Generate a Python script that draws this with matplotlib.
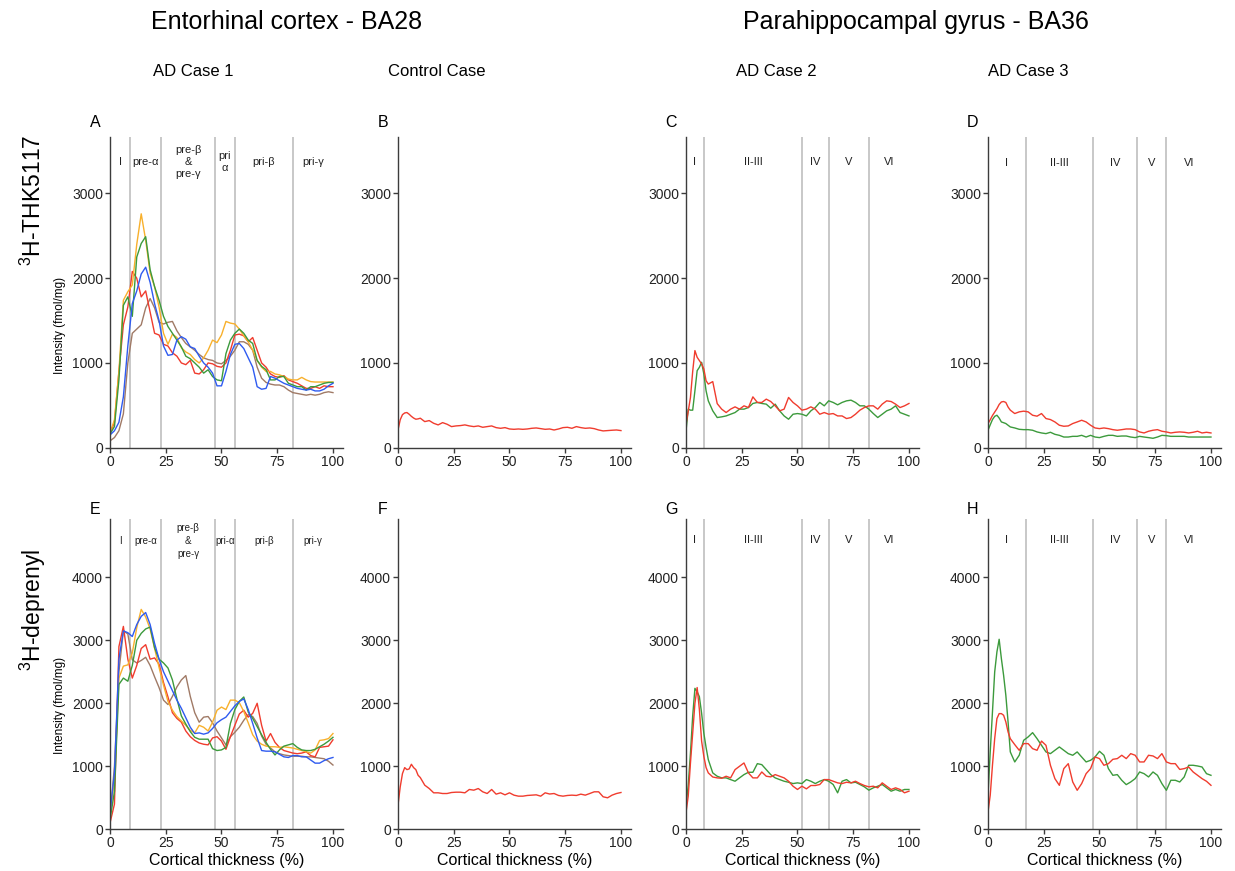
import matplotlib.pyplot as plt
import numpy as np

plt.rcParams['font.family'] = ['Liberation Sans', 'DejaVu Sans']
plt.rcParams['mathtext.default'] = 'regular'

# sample positions along the cortex (% thickness)
x_even = np.arange(0, 101, 2)
x_fine = np.concatenate([np.arange(0, 11), np.arange(12, 101, 2)])

# colours of the case lines
c_red = '#f03c2e'
c_green = '#3c9a3c'
c_blue = '#2f5bf0'
c_orange = '#f8b02c'
c_brown = '#a07a66'

# A - entorhinal, 3H-THK5117, AD case 1 (five profiles)
a_orange = [170, 330, 900, 1740, 1840, 1920, 2400, 2760, 2450, 2060,
            1900, 1660, 1350, 1220, 1340, 1300, 1180, 1130, 1100, 1040,
            1000, 1060, 1150, 1270, 1240, 1330, 1490, 1470, 1460, 1400,
            1320, 1250, 1150, 1030, 950, 900, 900, 870, 860, 840,
            810, 800, 800, 830, 800, 780, 775, 775, 775, 775, 775]
a_green = [160, 250, 800, 1680, 1780, 1550, 2250, 2410, 2490, 2100,
           1900, 1740, 1550, 1430, 1350, 1270, 1190, 1080, 1050, 1000,
           950, 880, 920, 840, 800, 790, 1110, 1270, 1350, 1400,
           1350, 1270, 1230, 1030, 960, 920, 800, 800, 840, 840,
           760, 740, 720, 720, 680, 720, 720, 740, 760, 770, 770]
a_red = [170, 300, 900, 1450, 1660, 2080, 2000, 1780, 1850, 1600,
         1350, 1330, 1220, 1200, 1120, 1080, 1000, 980, 1030, 880,
         870, 920, 1000, 990, 960, 950, 1000, 1150, 1330, 1340,
         1320, 1250, 1300, 1150, 1000, 950, 870, 840, 830, 850,
         800, 780, 760, 730, 700, 700, 720, 700, 730, 720, 720]
a_blue = [150, 200, 300, 600, 1200, 1700, 1850, 2050, 2130, 1950,
          1700, 1500, 1200, 1090, 1100, 1270, 1310, 1280, 1190, 1170,
          1080, 1000, 950, 880, 730, 730, 900, 1100, 1220, 1230,
          1170, 1060, 950, 720, 690, 700, 840, 820, 790, 760,
          740, 720, 700, 690, 680, 690, 670, 670, 690, 730, 760]
a_brown = [80, 120, 200, 400, 1000, 1350, 1400, 1450, 1650, 1760,
           1650, 1480, 1460, 1480, 1490, 1380, 1300, 1230, 1190, 1150,
           1100, 1060, 1040, 1030, 1000, 990, 1030, 1080, 1150, 1250,
           1250, 1220, 1150, 950, 820, 770, 750, 740, 740, 720,
           680, 650, 640, 630, 620, 630, 620, 630, 650, 660, 650]

# E - entorhinal, 3H-deprenyl, AD case 1
e_orange = [200, 800, 2400, 2590, 2610, 2800, 3200, 3490, 3370, 3180,
            2870, 2570, 2290, 2030, 1890, 1790, 1720, 1650, 1570, 1530,
            1650, 1620, 1560, 1700, 1890, 1940, 1900, 2050, 2050, 2010,
            1870, 1690, 1500, 1400, 1350, 1320, 1310, 1310, 1300, 1310,
            1300, 1290, 1270, 1250, 1230, 1210, 1260, 1410, 1420, 1440, 1520]
e_blue = [250, 900, 2700, 3150, 3120, 3060, 3250, 3380, 3440, 3250,
          2950, 2700, 2500, 2350, 2200, 2050, 1920, 1770, 1620, 1520,
          1530, 1510, 1530, 1600, 1690, 1740, 1780, 1870, 1960, 2030,
          2070, 1900, 1680, 1450, 1250, 1240, 1240, 1230, 1190, 1150,
          1140, 1170, 1170, 1150, 1150, 1100, 1050, 1050, 1090, 1120, 1140]
e_red = [100, 400, 2900, 3220, 2700, 2400, 2600, 2870, 2930, 2700,
         2720, 2620, 2330, 2100, 1850, 1760, 1700, 1560, 1470, 1410,
         1370, 1350, 1340, 1450, 1470, 1400, 1270, 1470, 1650, 1830,
         1890, 1780, 1840, 2000, 1650, 1400, 1520, 1380, 1300, 1250,
         1230, 1210, 1200, 1210, 1230, 1170, 1150, 1300, 1310, 1320, 1420]
e_green = [150, 600, 2300, 2400, 2350, 2600, 3000, 3110, 3180, 3210,
           2880, 2700, 2640, 2560, 2370, 2070, 1800, 1670, 1550, 1460,
           1430, 1430, 1430, 1280, 1250, 1260, 1300, 1680, 1900, 2030,
           2100, 1860, 1760, 1630, 1500, 1380, 1270, 1180, 1260, 1320,
           1340, 1360, 1300, 1260, 1250, 1250, 1270, 1310, 1350, 1400, 1460]
e_brown = [200, 1000, 2500, 3150, 3100, 2690, 2640, 2680, 2730, 2600,
           2420, 2250, 2050, 1980, 2110, 2260, 2370, 2440, 2110, 1850,
           1700, 1780, 1790, 1690, 1560, 1450, 1340, 1470, 1540, 1620,
           1730, 1820, 1790, 1680, 1480, 1350, 1290, 1230, 1200, 1180,
           1170, 1160, 1160, 1160, 1150, 1150, 1140, 1130, 1120, 1080, 1020]

# B / F - control case
b_red = [210, 330, 390, 410, 415, 395, 370, 350, 336, 340, 348,
         308, 320, 288, 269, 296, 277, 249, 257, 261, 269,
         257, 249, 257, 241, 249, 257, 237, 229, 237, 221,
         217, 221, 217, 221, 229, 233, 225, 217, 221, 209,
         221, 237, 241, 229, 249, 237, 229, 233, 225, 209,
         198, 202, 206, 209, 202]
f_red = [384, 674, 884, 979, 947, 958, 1032, 979, 947, 858, 821,
         700, 647, 579, 579, 568, 568, 584, 589, 589, 579,
         632, 621, 647, 595, 568, 632, 558, 579, 547, 579,
         542, 526, 526, 537, 542, 547, 526, 579, 560, 568,
         537, 526, 537, 542, 537, 558, 542, 568, 595, 595,
         516, 500, 542, 568, 584]

# C / G - parahippocampal, AD case 2
c_red_v = [277, 430, 593, 900, 1146, 1067, 1028, 988, 929, 790, 751,
           780, 520, 455, 415, 455, 482, 455, 494, 474, 600,
           534, 534, 573, 545, 494, 435, 455, 593, 534, 494,
           443, 455, 482, 455, 395, 415, 395, 403, 375, 375,
           344, 356, 395, 443, 474, 494, 494, 455, 514, 553,
           545, 514, 474, 494, 522]
c_green_v = [198, 455, 443, 443, 672, 909, 949, 1008, 870, 672, 553,
             435, 356, 364, 375, 395, 415, 455, 455, 474, 522,
             534, 522, 514, 466, 514, 435, 375, 336, 395, 403,
             395, 375, 435, 474, 534, 494, 553, 534, 506, 534,
             553, 561, 534, 494, 494, 455, 403, 356, 395, 435,
             455, 494, 415, 395, 375]
g_red = [263, 526, 1053, 1526, 2000, 2250, 1900, 1400, 1158, 980, 895,
         830, 816, 810, 842, 816, 947, 1000, 1053, 895, 816,
         816, 910, 842, 832, 868, 842, 816, 763, 684, 632,
         684, 642, 695, 695, 711, 789, 789, 763, 737, 726,
         747, 737, 763, 726, 695, 674, 684, 658, 737, 684,
         632, 658, 632, 579, 605]
g_green = [368, 700, 1210, 1800, 2237, 2184, 2105, 1842, 1526, 1300, 1105,
           895, 842, 816, 816, 789, 763, 816, 868, 905, 905,
           1042, 1026, 947, 868, 816, 789, 763, 747, 726, 737,
           726, 789, 763, 726, 763, 789, 763, 711, 579, 763,
           789, 737, 747, 711, 674, 621, 658, 684, 711, 658,
           605, 632, 605, 632, 632]

# D / H - parahippocampal, AD case 3
d_red = [285, 330, 380, 420, 460, 510, 540, 545, 534, 480, 443,
         403, 423, 431, 423, 383, 372, 403, 344, 332, 304,
         265, 253, 257, 285, 304, 324, 304, 265, 233, 225,
         233, 225, 213, 206, 213, 221, 221, 213, 186, 174,
         194, 206, 213, 194, 186, 174, 182, 186, 182, 174,
         182, 194, 174, 182, 174]
d_green = [206, 270, 332, 370, 383, 350, 304, 295, 285, 265, 245,
           233, 217, 213, 213, 206, 186, 174, 166, 182, 158,
           146, 126, 126, 134, 134, 146, 126, 146, 126, 119,
           134, 146, 146, 134, 138, 138, 126, 119, 134, 126,
           119, 111, 126, 146, 142, 134, 134, 134, 134, 126,
           126, 126, 126, 126, 126]
h_green = [540, 1228, 1862, 2497, 2815, 3016, 2709, 2444, 2127, 1704, 1228,
           1069, 1175, 1413, 1466, 1534, 1439, 1333, 1228, 1201, 1254,
           1307, 1254, 1201, 1175, 1228, 1148, 1069, 1095, 1148, 1238,
           1175, 963, 857, 868, 778, 709, 751, 804, 910, 883,
           831, 910, 857, 725, 619, 778, 778, 751, 831, 1016,
           1016, 1005, 989, 883, 857]
h_red = [275, 540, 1016, 1439, 1757, 1836, 1836, 1810, 1704, 1545, 1439,
         1344, 1254, 1360, 1360, 1280, 1254, 1400, 1333, 1016, 804,
         698, 963, 1042, 751, 619, 725, 883, 963, 1148, 1122,
         1016, 1042, 1111, 1122, 1175, 1122, 1201, 1175, 1069, 1069,
         1175, 1164, 1122, 1201, 1069, 1042, 1042, 950, 963, 989,
         910, 857, 804, 762, 698]

# layer boundaries and names
erc_bounds = [9, 23, 47, 56, 82]
erc_names_top = ["I", "pre-α", "pre-β\n&\npre-γ", "pri\nα", "pri-β", "pri-γ"]
erc_names_bot = ["I", "pre-α", "pre-β\n&\npre-γ", "pri-α", "pri-β", "pri-γ"]
case2_bounds = [8, 52, 64, 82]
case3_bounds = [17, 47, 67, 80]
iso_names = ["I", "II-III", "IV", "V", "VI"]

col_titles = ["AD Case 1", "Control Case", "AD Case 2", "AD Case 3"]
col_title_x = [193, 437, 776, 1028]
letters = ["A", "B", "C", "D", "E", "F", "G", "H"]

#figure
fig = plt.figure(figsize=(12.35, 8.71), dpi=100)
W, H = 1235.0, 871.0
col_left = [110, 398, 686, 988]
row_top = [136.7, 519.3]
row_bottom = [447.7, 829.3]
ax_w = 233

axes = []
for r in range(2):
    for c in range(4):
        ax = fig.add_axes([col_left[c] / W, (H - row_bottom[r]) / H,
                           ax_w / W, (row_bottom[r] - row_top[r]) / H])
        axes.append(ax)


def style(ax, ymax, yticks):
    ax.set_xlim(0, 104.5)
    ax.set_ylim(0, ymax)
    ax.set_xticks([0, 25, 50, 75, 100])
    ax.set_yticks(yticks)
    ax.spines['top'].set_visible(False)
    ax.spines['right'].set_visible(False)
    for s in ['left', 'bottom']:
        ax.spines[s].set_color('#3c3c3c')
        ax.spines[s].set_linewidth(1.0)
    ax.tick_params(length=3.5, width=1, color='#3c3c3c', labelsize=10,
                   labelcolor='#222222', pad=1.5)


def layers(ax, bounds, names, yfrac, fs, ls=1.3):
    edges = [0] + bounds + [100]
    for b in bounds:
        ax.axvline(b, color='#c4c4c4', lw=1.3, zorder=1)
    for i, name in enumerate(names):
        ax.text((edges[i] + edges[i + 1]) / 2, yfrac, name,
                transform=ax.get_xaxis_transform(), ha='center', va='center',
                fontsize=fs, linespacing=ls, color='#222222')


lw = 1.0
# row 1 - 3H-THK5117
ax = axes[0]
style(ax, 3670, [0, 1000, 2000, 3000])
layers(ax, erc_bounds, erc_names_top, 0.92, 8, ls=1.25)
ax.plot(x_even, a_brown, color=c_brown, lw=lw)
ax.plot(x_even, a_red, color=c_red, lw=lw)
ax.plot(x_even, a_orange, color=c_orange, lw=lw)
ax.plot(x_even, a_green, color=c_green, lw=lw)
ax.plot(x_even, a_blue, color=c_blue, lw=lw)

ax = axes[1]
style(ax, 3670, [0, 1000, 2000, 3000])
ax.plot(x_fine, b_red, color=c_red, lw=lw)

ax = axes[2]
style(ax, 3670, [0, 1000, 2000, 3000])
layers(ax, case2_bounds, iso_names, 0.918, 8)
ax.plot(x_fine, c_green_v, color=c_green, lw=lw)
ax.plot(x_fine, c_red_v, color=c_red, lw=lw)

ax = axes[3]
style(ax, 3670, [0, 1000, 2000, 3000])
layers(ax, case3_bounds, iso_names, 0.916, 8)
ax.plot(x_fine, d_green, color=c_green, lw=lw)
ax.plot(x_fine, d_red, color=c_red, lw=lw)

# row 2 - 3H-deprenyl
ax = axes[4]
style(ax, 4920, [0, 1000, 2000, 3000, 4000])
layers(ax, erc_bounds, erc_names_bot, 0.93, 7, ls=1.35)
ax.plot(x_even, e_brown, color=c_brown, lw=lw)
ax.plot(x_even, e_red, color=c_red, lw=lw)
ax.plot(x_even, e_orange, color=c_orange, lw=lw)
ax.plot(x_even, e_green, color=c_green, lw=lw)
ax.plot(x_even, e_blue, color=c_blue, lw=lw)

ax = axes[5]
style(ax, 4920, [0, 1000, 2000, 3000, 4000])
ax.plot(x_fine, f_red, color=c_red, lw=lw)

ax = axes[6]
style(ax, 4920, [0, 1000, 2000, 3000, 4000])
layers(ax, case2_bounds, iso_names, 0.932, 8)
ax.plot(x_fine, g_green, color=c_green, lw=lw)
ax.plot(x_fine, g_red, color=c_red, lw=lw)

ax = axes[7]
style(ax, 4920, [0, 1000, 2000, 3000, 4000])
layers(ax, case3_bounds, iso_names, 0.932, 8)
ax.plot(x_fine, h_green, color=c_green, lw=lw)
ax.plot(x_fine, h_red, color=c_red, lw=lw)

for ax in axes[4:]:
    ax.set_xlabel("Cortical thickness (%)", fontsize=11.5, labelpad=2)

# panel letters
for i, ax in enumerate(axes):
    r, c = divmod(i, 4)
    up = 14 if r == 0 else 10
    fig.text((col_left[c] - 15) / W, (H - row_top[r] + up) / H, letters[i],
             ha='center', va='center', fontsize=11.5)

# titles
fig.text(286.5 / W, 1 - 22 / H, "Entorhinal cortex - BA28",
         ha='center', va='center', fontsize=18)
fig.text(916 / W, 1 - 22 / H, "Parahippocampal gyrus - BA36",
         ha='center', va='center', fontsize=18)
for t, xp in zip(col_titles, col_title_x):
    fig.text(xp / W, 1 - 71.5 / H, t, ha='center', va='center', fontsize=12)

# row labels and y labels
fig.text(33 / W, 1 - 200 / H, "$^3$H-THK5117", rotation=90,
         ha='center', va='center', fontsize=16.5)
fig.text(33 / W, 1 - 610 / H, "$^3$H-deprenyl", rotation=90,
         ha='center', va='center', fontsize=16.5)
fig.text(60 / W, 1 - 325 / H, "Intensity (fmol/mg)", rotation=90,
         ha='center', va='center', fontsize=8.5)
fig.text(60 / W, 1 - 705 / H, "Intensity (fmol/mg)", rotation=90,
         ha='center', va='center', fontsize=8.5)

fig.savefig("out.png", dpi=100)
